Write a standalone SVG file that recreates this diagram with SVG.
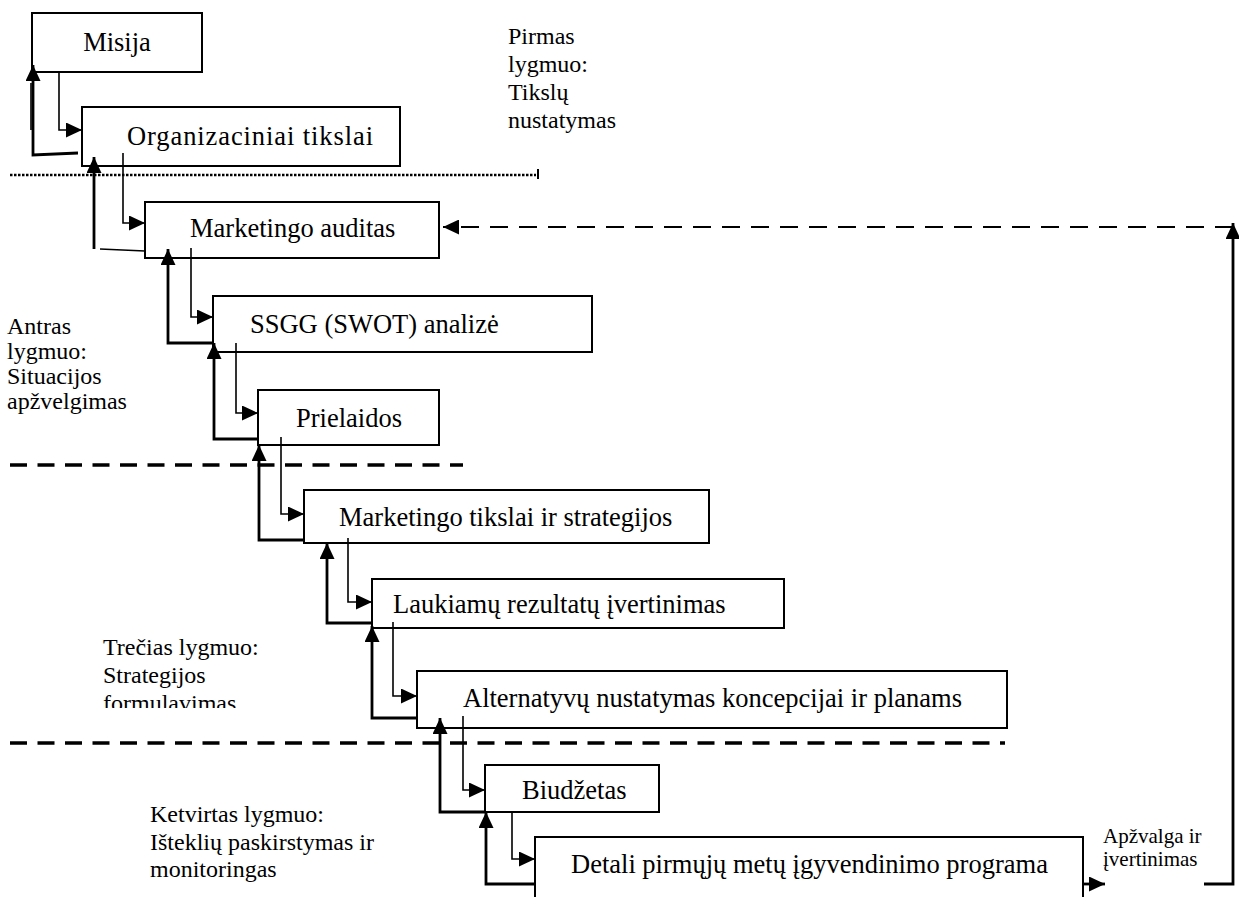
<svg xmlns="http://www.w3.org/2000/svg" width="1239" height="897" viewBox="0 0 1239 897">
<style>
.box{fill:#fff;stroke:#000;stroke-width:2}
.t{font-family:"Liberation Serif","Times New Roman",serif;font-size:26.5px;fill:#000}
.lbl{font-family:"Liberation Serif","Times New Roman",serif;font-size:24px;fill:#000}
.sm{font-family:"Liberation Serif","Times New Roman",serif;font-size:21px;fill:#000}
.thin{fill:none;stroke:#000;stroke-width:1.6}
.thick{fill:none;stroke:#000;stroke-width:2.8}
.sep{fill:none;stroke:#000;stroke-width:3.5;stroke-dasharray:17 10.5}
.dot{fill:none;stroke:#000;stroke-width:2.5;stroke-dasharray:2.5 1.5}
.loop{fill:none;stroke:#000;stroke-width:2.2;stroke-dasharray:18 11}
</style>
<defs>
<marker id="ah" viewBox="0 0 16 15" refX="16" refY="7.5" markerWidth="16" markerHeight="15" markerUnits="userSpaceOnUse" orient="auto">
<path d="M0,0 L16,7.5 L0,15 z" fill="#000"/>
</marker>
<clipPath id="clipT"><rect x="0" y="600" width="400" height="108"/></clipPath>
</defs>
<g id="separators">
<path class="dot" d="M10,175 H536"/>
<path d="M538,169 V179" stroke="#000" stroke-width="2"/>
<path class="sep" d="M10,465 H463"/>
<path class="sep" d="M10,743 H1005"/>
</g>
<g id="misija"><rect class="box" x="32" y="13" width="170" height="59"/><text class="t" x="117" y="51" text-anchor="middle">Misija</text></g>
<g id="org"><rect class="box" x="82" y="107" width="318" height="59"/><text class="t" x="127" y="145" textLength="246" lengthAdjust="spacing">Organizaciniai tikslai</text></g>
<g id="audit"><rect class="box" x="145" y="202" width="294" height="56"/><text class="t" x="190" y="237">Marketingo auditas</text></g>
<g id="ssgg"><rect class="box" x="213" y="296" width="379" height="56"/><text class="t" x="250" y="333">SSGG (SWOT) analizė</text></g>
<g id="prielaidos"><rect class="box" x="258" y="390" width="181" height="55"/><text class="t" x="296" y="427">Prielaidos</text></g>
<g id="mtikslai"><rect class="box" x="304" y="490" width="405" height="53"/><text class="t" x="339" y="526">Marketingo tikslai ir strategijos</text></g>
<g id="laukiamu"><rect class="box" x="372" y="579" width="412" height="49"/><text class="t" x="393" y="613">Laukiamų rezultatų įvertinimas</text></g>
<g id="alternatyvu"><rect class="box" x="417" y="671" width="590" height="57"/><text class="t" x="463" y="707">Alternatyvų nustatymas koncepcijai ir planams</text></g>
<g id="biudzetas"><rect class="box" x="485" y="765" width="174" height="47"/><text class="t" x="522" y="799">Biudžetas</text></g>
<g id="detali"><rect class="box" x="535" y="837" width="548" height="70"/><text class="t" x="571" y="873">Detali pirmųjų metų įgyvendinimo programa</text></g>
<g id="labels">
<text class="lbl" x="508"><tspan x="508" y="44">Pirmas</tspan><tspan x="508" y="72">lygmuo:</tspan><tspan x="508" y="100">Tikslų</tspan><tspan x="508" y="128">nustatymas</tspan></text>
<text class="lbl" x="7"><tspan x="7" y="334">Antras</tspan><tspan x="7" y="359">lygmuo:</tspan><tspan x="7" y="384">Situacijos</tspan><tspan x="7" y="409">apžvelgimas</tspan></text>
<text class="lbl" x="103" clip-path="url(#clipT)"><tspan x="103" y="655">Trečias lygmuo:</tspan><tspan x="103" y="683">Strategijos</tspan><tspan x="103" y="711">formulavimas</tspan></text>
<text class="lbl" x="150"><tspan x="150" y="822">Ketvirtas lygmuo:</tspan><tspan x="150" y="850">Išteklių paskirstymas ir</tspan><tspan x="150" y="877">monitoringas</tspan></text>
<text class="sm" x="1103"><tspan x="1103" y="843">Apžvalga ir</tspan><tspan x="1103" y="866">įvertinimas</tspan></text>
</g>
<g id="connectors">
<path class="thin" d="M59,72 V130 H82" marker-end="url(#ah)"/>
<path class="thick" d="M78,153 L33,155 V65" marker-end="url(#ah)"/>
<path class="thin" d="M31,83 V130" stroke-width="2"/>
<path class="thick" d="M94,249 V157" marker-end="url(#ah)"/>
<path class="thin" d="M100,249 L145,251" stroke-width="2"/>
<path class="thin" d="M123,153 V223 H145" marker-end="url(#ah)"/>
<path class="thin" d="M191,248 V317 H213" marker-end="url(#ah)"/>
<path class="thick" d="M213,343 H168 V249" marker-end="url(#ah)"/>
<path class="thin" d="M236,343 V413 H258" marker-end="url(#ah)"/>
<path class="thick" d="M258,439 H214 V343" marker-end="url(#ah)"/>
<path class="thin" d="M281,437 V514 H304" marker-end="url(#ah)"/>
<path class="thick" d="M304,540 H259 V445" marker-end="url(#ah)"/>
<path class="thin" d="M348,538 V602 H372" marker-end="url(#ah)"/>
<path class="thick" d="M372,623 H327 V543" marker-end="url(#ah)"/>
<path class="thin" d="M393,622 V696 H417" marker-end="url(#ah)"/>
<path class="thick" d="M417,718 H372 V626" marker-end="url(#ah)"/>
<path class="thin" d="M463,716 V790 H485" marker-end="url(#ah)"/>
<path class="thick" d="M485,812 H440 V718" marker-end="url(#ah)"/>
<path class="thin" d="M512,812 V859 H535" marker-end="url(#ah)"/>
<path class="thick" d="M535,884 H486 V812" marker-end="url(#ah)"/>
<path class="thick" d="M1083,884 H1105" stroke-width="2" marker-end="url(#ah)"/>
<path class="thick" d="M1204,884 H1233 V223" stroke-width="2.2" marker-end="url(#ah)"/>
<path class="loop" d="M1233,227 H443" marker-end="url(#ah)"/>
</g>
</svg>
